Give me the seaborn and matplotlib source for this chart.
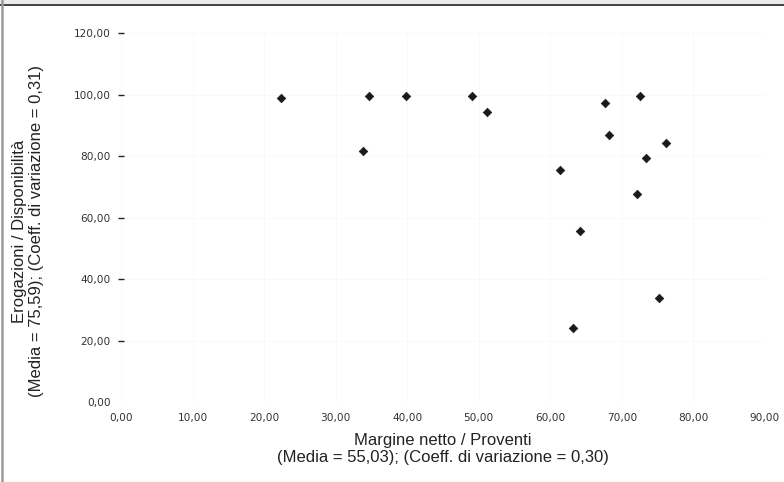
import matplotlib
matplotlib.use("Agg")
import matplotlib.pyplot as plt
import seaborn as sns
import pandas as pd
from matplotlib.patches import Rectangle
from matplotlib.lines import Line2D

# Margine netto / Proventi (x) vs Erogazioni / Disponibilita (y)
margine = [22.4, 34.6, 33.8, 39.8, 49.1, 51.2, 67.7, 72.6,
           68.2, 76.1, 73.3, 61.3, 72.1, 64.1, 63.2, 75.2]
erogazioni = [98.8, 99.6, 81.7, 99.6, 99.6, 94.2, 97.2, 99.6,
              86.7, 84.3, 79.4, 75.4, 67.6, 55.7, 24.0, 33.9]

x_ticks = [0, 10, 20, 30, 40, 50, 60, 70, 80, 90]
y_ticks = [0, 20, 40, 60, 80, 100, 120]

x_label = "Margine netto / Proventi\n(Media = 55,03); (Coeff. di variazione = 0,30)"
y_label = "Erogazioni / Disponibilità\n(Media = 75,59); (Coeff. di variazione = 0,31)"

df = pd.DataFrame({"x": margine, "y": erogazioni})

sns.set_style("white")
plt.rcParams["font.family"] = ["DejaVu Sans"]

fig = plt.figure(figsize=(7.84, 4.82), dpi=100)
ax = fig.add_axes([121 / 784, 1 - 402 / 482, (765 - 121) / 784, (402 - 33) / 482])

sns.scatterplot(data=df, x="x", y="y", marker="D", s=19, color="#1a1a1a",
                edgecolor="#1a1a1a", linewidth=0.5, ax=ax, zorder=3)

ax.set_xlim(0, 90)
ax.set_ylim(0, 120)
ax.set_xticks(x_ticks)
ax.set_yticks(y_ticks)
fmt = lambda v: f"{v:.2f}".replace(".", ",")
ax.set_xticklabels([fmt(v) for v in x_ticks])
ax.set_yticklabels([fmt(v) for v in y_ticks])

for s in ax.spines.values():
    s.set_visible(False)
ax.grid(True, color="#f8f8f8", linewidth=0.6)
ax.set_axisbelow(True)

ax.tick_params(axis="x", bottom=False, length=0, pad=8, labelsize=7.6, colors="#333333")
ax.tick_params(axis="y", left=True, direction="inout", length=5, width=1.0, pad=5,
               labelsize=7.6, colors="#222222", labelcolor="#333333")
ax.yaxis.get_major_ticks()[0].tick1line.set_visible(False)

ax.set_xlabel(x_label, family=["Liberation Sans"], fontsize=12,
              color="#222222", labelpad=7, linespacing=1.18)
ax.set_ylabel(y_label, family=["Liberation Sans"], fontsize=12,
              color="#222222", linespacing=1.18)
ax.yaxis.set_label_coords(-0.119, 0.463)

# frame decorations of the original screenshot
fig.patches.append(Rectangle((0, 1 - 4 / 482), 1, 4 / 482, transform=fig.transFigure,
                             facecolor="#ebebeb", edgecolor="none"))
fig.lines.append(Line2D([0, 1], [1 - 4.5 / 482, 1 - 4.5 / 482], transform=fig.transFigure,
                        color="#222222", linewidth=1.2))
fig.lines.append(Line2D([2 / 784, 2 / 784], [0, 1], transform=fig.transFigure,
                        color="#9a9a9a", linewidth=1.8))

fig.savefig("out.png", dpi=100)
